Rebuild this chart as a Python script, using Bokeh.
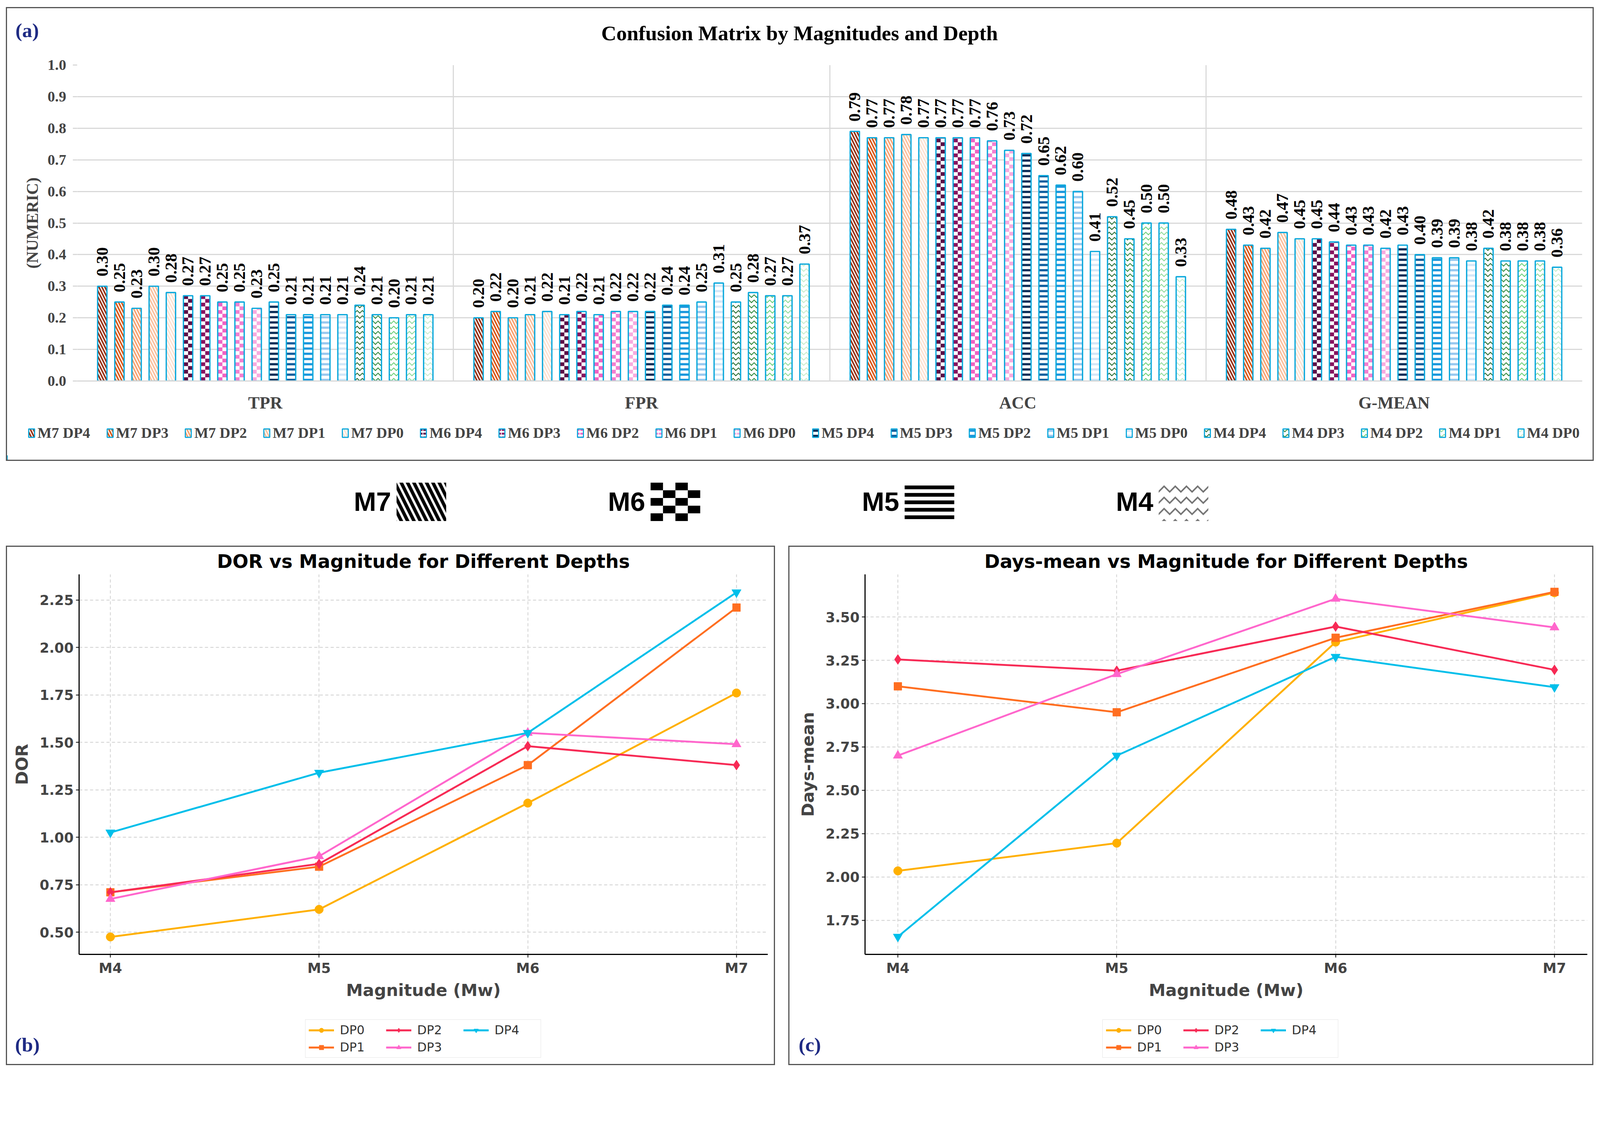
import math
from bokeh.plotting import figure
from bokeh.models import (ColumnDataSource, FixedTicker, Legend, LegendItem, Spacer,
                          NumeralTickFormatter, Range1d)
from bokeh.layouts import column, row
from bokeh.core.properties import value
from bokeh.embed import file_html
from bokeh.resources import INLINE

# ---------------- data: panel (a) ----------------
metrics = ["TPR", "FPR", "ACC", "G-MEAN"]
series_names = ["M7 DP4", "M7 DP3", "M7 DP2", "M7 DP1", "M7 DP0",
                "M6 DP4", "M6 DP3", "M6 DP2", "M6 DP1", "M6 DP0",
                "M5 DP4", "M5 DP3", "M5 DP2", "M5 DP1", "M5 DP0",
                "M4 DP4", "M4 DP3", "M4 DP2", "M4 DP1", "M4 DP0"]
tpr = [0.30, 0.25, 0.23, 0.30, 0.28, 0.27, 0.27, 0.25, 0.25, 0.23,
       0.25, 0.21, 0.21, 0.21, 0.21, 0.24, 0.21, 0.20, 0.21, 0.21]
fpr = [0.20, 0.22, 0.20, 0.21, 0.22, 0.21, 0.22, 0.21, 0.22, 0.22,
       0.22, 0.24, 0.24, 0.25, 0.31, 0.25, 0.28, 0.27, 0.27, 0.37]
acc = [0.79, 0.77, 0.77, 0.78, 0.77, 0.77, 0.77, 0.77, 0.76, 0.73,
       0.72, 0.65, 0.62, 0.60, 0.41, 0.52, 0.45, 0.50, 0.50, 0.33]
gmean = [0.48, 0.43, 0.42, 0.47, 0.45, 0.45, 0.44, 0.43, 0.43, 0.42,
         0.43, 0.40, 0.39, 0.39, 0.38, 0.42, 0.38, 0.38, 0.38, 0.36]
series_colors = ["#93290a", "#d9520f", "#f9a06e", "#fbbf9c", "#fde2d2",
                 "#5b0e47", "#86135f", "#f062c3", "#f47fd0", "#f8aadf",
                 "#0b2d57", "#0f5f9e", "#1996dc", "#98c8ef", "#d3e7f8",
                 "#0c5a18", "#147a24", "#55c866", "#7fd68c", "#bfeac5"]
magnitudes = ["M7", "M6", "M5", "M4"]

# ---------------- data: panels (b), (c) ----------------
mag_labels = ["M4", "M5", "M6", "M7"]
depths = ["DP0", "DP1", "DP2", "DP3", "DP4"]
dor_dp0 = [0.475, 0.62, 1.18, 1.76]
dor_dp1 = [0.71, 0.845, 1.38, 2.21]
dor_dp2 = [0.71, 0.86, 1.48, 1.38]
dor_dp3 = [0.675, 0.90, 1.55, 1.49]
dor_dp4 = [1.025, 1.34, 1.55, 2.29]
days_dp0 = [2.035, 2.195, 3.355, 3.64]
days_dp1 = [3.10, 2.95, 3.38, 3.645]
days_dp2 = [3.255, 3.19, 3.445, 3.195]
days_dp3 = [2.70, 3.17, 3.605, 3.44]
days_dp4 = [1.655, 2.70, 3.27, 3.095]
depth_colors = ["#FFB000", "#FF6E20", "#F72A55", "#FF66CC", "#00BFEA"]
depth_markers = ["circle", "square", "diamond", "triangle", "inverted_triangle"]
depth_msize = [23, 21, 27, 25, 25]

SERIF = "Liberation Serif"
SANS = "DejaVu Sans"
CYAN = "#0aa8dc"
TAG_COLOR = "#1f2b84"

# the page is photographed slightly enlarged; work in reference pixels scaled by K
K = 0.955


def S(v):
    return int(round(v * K))


def F(v):
    return "%.1fpx" % (v * K)


BOX_STYLE = {"border": "3px solid #555555"}


def hatch_for(mag, big=False):
    if mag == "M7":
        return dict(hatch_pattern="\\", hatch_scale=(34 if big else 16) * K, hatch_weight=(9 if big else 4) * K)
    if mag == "M6":
        return dict(hatch_pattern='"', hatch_scale=10 * K, hatch_weight=5 * K)
    if mag == "M5":
        return dict(hatch_pattern="-", hatch_scale=(20 if big else 14) * K, hatch_weight=(10 if big else 6) * K)
    return dict(hatch_pattern="v", hatch_scale=(30 if big else 14) * K, hatch_weight=(4 if big else 2) * K)


def blank_fig(w, h):
    f = figure(width=w, height=h, x_range=Range1d(0, w), y_range=Range1d(0, h),
               output_backend="svg", toolbar_location=None, min_border=0, frame_align=False,
               x_axis_type=None, y_axis_type=None, outline_line_color=None)
    f.grid.visible = False
    return f


def checker_quads(xc, half_w, y_top, cell_h, color, fig):
    n = int(math.ceil(y_top / cell_h))
    L, R, B, T = [], [], [], []
    ncol = 2
    cw = 2 * half_w / ncol
    for r in range(n):
        b = r * cell_h
        t = min(b + cell_h, y_top)
        for c in range(ncol):
            if (r + c) % 2 == 0:
                L.append(xc - half_w + c * cw)
                R.append(xc - half_w + (c + 1) * cw)
                B.append(b)
                T.append(t)
    fig.quad(left=L, right=R, bottom=B, top=T, fill_color=color, line_color=None)


# ================= panel (a) =================
A_W = S(4250)
a_head = blank_fig(A_W, S(120))
a_head.text(x=[22 * K], y=[62 * K], text=["(a)"], text_font=value(SERIF), text_font_style="bold",
            text_font_size=F(54), text_color=TAG_COLOR, text_align="left", text_baseline="middle")
a_head.text(x=[2124 * K], y=[54 * K], text=["Confusion Matrix by Magnitudes and Depth"],
            text_font=value(SERIF), text_font_style="bold", text_font_size=F(56),
            text_color="black", text_align="center", text_baseline="middle")

A_ML, A_MR, A_MT, A_MB, A_H = S(187), S(28), S(31), S(91), S(970)
top = figure(width=A_W, height=A_H, x_range=Range1d(0, 4), y_range=Range1d(0, 1),
             output_backend="svg", toolbar_location=None, frame_align=False,
             min_border_left=A_ML, min_border_right=A_MR, min_border_top=A_MT, min_border_bottom=A_MB,
             outline_line_color=None)
frame_h_a = A_H - A_MT - A_MB
pitch = 0.0456
bar_w = 0.0248
values_by_metric = [tpr, fpr, acc, gmean]
for j, name in enumerate(series_names):
    vals = [m[j] for m in values_by_metric]
    xs = [i + 0.5 + (j - (len(series_names) - 1) / 2) * pitch for i in range(len(metrics))]
    src = ColumnDataSource(dict(x=xs, top=vals, label=["%.2f" % v for v in vals]))
    mag = name.split()[0]
    if mag == "M6":
        top.vbar(x="x", top="top", width=bar_w, source=src, fill_color="white", line_color=None)
        for xc, v in zip(xs, vals):
            checker_quads(xc, bar_w / 2, v, 10.0 * K / frame_h_a, series_colors[j], top)
        top.vbar(x="x", top="top", width=bar_w, source=src, fill_color=None,
                 line_color=CYAN, line_width=3.5 * K)
    else:
        top.vbar(x="x", top="top", width=bar_w, source=src, fill_color="white",
                 line_color=CYAN, line_width=3.5 * K, hatch_color=series_colors[j], **hatch_for(mag))
    top.text(x="x", y="top", text="label", source=src, angle=math.pi / 2,
             text_align="left", text_baseline="middle", y_offset=-26 * K,
             text_font=value(SERIF), text_font_style="bold", text_font_size=F(45),
             text_color="black")

top.xaxis.ticker = FixedTicker(ticks=[i + 0.5 for i in range(len(metrics))])
top.xaxis.major_label_overrides = {i + 0.5: m for i, m in enumerate(metrics)}
top.xaxis.axis_line_color = "#d9d9d9"
top.xaxis.axis_line_width = 3 * K
top.xaxis.major_tick_line_color = None
top.xaxis.minor_tick_line_color = None
top.xaxis.major_label_text_font = SERIF
top.xaxis.major_label_text_font_style = "bold"
top.xaxis.major_label_text_font_size = F(46)
top.xaxis.major_label_standoff = S(26)
top.xgrid.ticker = FixedTicker(ticks=list(range(len(metrics) + 1)))
top.xgrid.grid_line_color = "#d9d9d9"
top.xgrid.grid_line_width = 3 * K

yt = [round(i * 0.1, 1) for i in range(11)]
top.yaxis.ticker = FixedTicker(ticks=yt)
top.yaxis.formatter = NumeralTickFormatter(format="0.0")
top.yaxis.axis_line_color = None
top.yaxis.major_tick_line_color = "#d9d9d9"
top.yaxis.major_tick_line_width = 3 * K
top.yaxis.major_tick_out = S(12)
top.yaxis.major_tick_in = 0
top.yaxis.minor_tick_line_color = None
top.yaxis.major_label_text_font = SERIF
top.yaxis.major_label_text_font_style = "bold"
top.yaxis.major_label_text_font_size = F(40)
top.yaxis.major_label_standoff = S(18)
top.yaxis.axis_label = "(NUMERIC)"
top.yaxis.axis_label_text_font = SERIF
top.yaxis.axis_label_text_font_style = "bold"
top.yaxis.axis_label_text_font_size = F(44)
top.yaxis.axis_label_standoff = S(14)
top.ygrid.ticker = FixedTicker(ticks=yt)
top.ygrid.grid_line_color = "#d9d9d9"
top.ygrid.grid_line_width = 3 * K

a_foot = blank_fig(A_W, S(120))
leg_items = []
for j, name in enumerate(series_names):
    mag = name.split()[0]
    r = a_foot.vbar(x=[-1000], top=[10], width=10, fill_color="white", line_color=CYAN,
                    line_width=3 * K, hatch_color=series_colors[j], **hatch_for(mag))
    leg_items.append(LegendItem(label=name, renderers=[r]))
a_foot.add_layout(Legend(items=leg_items, orientation="horizontal", location=(S(56), S(49)),
                         label_text_font=SERIF, label_text_font_style="bold",
                         label_text_font_size=F(40), glyph_width=S(20), glyph_height=S(28),
                         label_standoff=S(6), spacing=S(43), padding=S(4), margin=0,
                         border_line_color=None, background_fill_alpha=0))

panel_a = column(a_head, top, a_foot, styles=BOX_STYLE)

# ================= pattern key =================
mid = blank_fig(S(4276), S(227))
key_x0 = 998 * K
key_pitch = 681 * K
KEY_W, KEY_H, KEY_Y = 133 * K, 103 * K, 118 * K
for i, mg in enumerate(magnitudes):
    cx = key_x0 + i * key_pitch
    mid.text(x=[cx], y=[KEY_Y], text=[mg], text_font=value("Liberation Sans"), text_font_style="bold",
             text_font_size=F(72), text_align="center", text_baseline="middle", text_color="black")
    kx = cx + 131 * K
    if mg == "M6":
        mid.rect(x=[kx], y=[KEY_Y], width=KEY_W, height=KEY_H, fill_color="white", line_color=None)
        ncols, nrows = 4, 5
        cw = KEY_W / ncols
        ch = KEY_H / nrows
        L, R, B, T = [], [], [], []
        for rr in range(nrows):
            b = KEY_Y - KEY_H / 2 + rr * ch
            for c in range(ncols):
                if (rr + c) % 2 == 0:
                    L.append(kx - KEY_W / 2 + c * cw)
                    R.append(kx - KEY_W / 2 + (c + 1) * cw)
                    B.append(b)
                    T.append(b + ch)
        mid.quad(left=L, right=R, bottom=B, top=T, fill_color="black", line_color=None)
    else:
        mid.rect(x=[kx], y=[KEY_Y], width=KEY_W, height=KEY_H, fill_color="white", line_color=None,
                 hatch_color="#707070" if mg == "M4" else "black", **hatch_for(mg, big=True))


# ================= panels (b), (c) =================
def line_panel(width_ref, ml_ref, mr_ref, series, y_lo, y_hi, yticks, title, ylabel, tag, tag_x, legend_x):
    width, ml, mr = S(width_ref), S(ml_ref), S(mr_ref)
    head = blank_fig(width, S(68))
    main_h, mt, mb = S(1149), S(5), S(121)
    frame_cx = ml + (width - ml - mr) / 2
    head.text(x=[frame_cx], y=[29 * K], text=[title], text_font=value(SANS), text_font_style="bold",
              text_font_size=F(50), text_align="center", text_baseline="middle", text_color="black")

    p = figure(width=width, height=main_h, x_range=Range1d(-0.15, 3.15), y_range=Range1d(y_lo, y_hi),
               output_backend="svg", toolbar_location=None, frame_align=False,
               min_border_left=ml, min_border_right=mr, min_border_top=mt, min_border_bottom=mb,
               outline_line_color=None)
    xs = list(range(len(mag_labels)))
    for k, ys in enumerate(series):
        p.line(xs, ys, line_color=depth_colors[k], line_width=5 * K)
        p.scatter(xs, ys, marker=depth_markers[k], size=depth_msize[k] * K,
                  fill_color=depth_colors[k], line_color=depth_colors[k])
    p.xaxis.ticker = FixedTicker(ticks=xs)
    p.xaxis.major_label_overrides = {i: m for i, m in enumerate(mag_labels)}
    p.yaxis.ticker = FixedTicker(ticks=yticks)
    p.yaxis.formatter = NumeralTickFormatter(format="0.00")
    for ax in (p.xaxis, p.yaxis):
        ax.axis_line_color = "black"
        ax.axis_line_width = 3 * K
        ax.major_tick_line_color = "black"
        ax.major_tick_line_width = 2 * K
        ax.major_tick_out = S(8)
        ax.major_tick_in = 0
        ax.minor_tick_line_color = None
        ax.major_label_text_font = SANS
        ax.major_label_text_font_style = "bold"
        ax.major_label_text_font_size = F(37)
        ax.major_label_standoff = S(6)
        ax.axis_label_text_font = SANS
        ax.axis_label_text_font_style = "bold"
        ax.axis_label_text_font_size = F(45)
    p.xaxis.axis_label = "Magnitude (Mw)"
    p.xaxis.axis_label_standoff = S(8)
    p.yaxis.axis_label = ylabel
    p.yaxis.axis_label_standoff = S(18)
    for g in (p.xgrid, p.ygrid):
        g.grid_line_color = "#cfcfcf"
        g.grid_line_width = 2 * K
        g.grid_line_dash = "8 6"
    p.ygrid.ticker = FixedTicker(ticks=yticks)
    p.xgrid.ticker = FixedTicker(ticks=xs)

    foot = blank_fig(width, S(170))
    foot.text(x=[tag_x * K], y=[52 * K], text=[tag], text_font=value(SERIF), text_font_style="bold",
              text_font_size=F(54), text_color=TAG_COLOR, text_align="left", text_baseline="middle")
    items = []
    for k in range(len(depths)):
        ln = foot.line([-1000, -990], [10, 10], line_color=depth_colors[k], line_width=5 * K)
        sc = foot.scatter([-995], [10], marker=depth_markers[k], size=depth_msize[k] * K,
                          fill_color=depth_colors[k], line_color=depth_colors[k])
        items.append(LegendItem(label=depths[k], renderers=[ln, sc]))
    foot.add_layout(Legend(items=items, location=(S(legend_x), S(17)), orientation="vertical", nrows=2,
                           label_text_font=SANS, label_text_font_size=F(33),
                           label_text_color="#333333", glyph_width=S(68), glyph_height=S(30),
                           label_standoff=S(16), label_width=S(115), spacing=S(8), padding=S(8), margin=0,
                           border_line_color="#cccccc", border_line_width=2 * K,
                           background_fill_color="white", background_fill_alpha=1.0))
    return column(head, p, foot, styles=BOX_STYLE)


dor_ticks = [0.5 + 0.25 * i for i in range(8)]
days_ticks = [1.75 + 0.25 * i for i in range(8)]
panel_b = line_panel(2055, 193, 17, [dor_dp0, dor_dp1, dor_dp2, dor_dp3, dor_dp4], 0.383, 2.385,
                     dor_ticks, "DOR vs Magnitude for Different Depths", "DOR", "(b)", 21, 799)
panel_c = line_panel(2152, 202, 14, [days_dp0, days_dp1, days_dp2, days_dp3, days_dp4], 1.553, 3.746,
                     days_ticks, "Days-mean vs Magnitude for Different Depths", "Days-mean", "(c)", 24, 839)

layout = column(
    Spacer(height=S(19), width=10),
    row(Spacer(width=S(16), height=10), panel_a),
    mid,
    row(Spacer(width=S(16), height=10), panel_b, Spacer(width=S(36), height=10), panel_c),
)

open("out.html", "w").write(file_html(layout, INLINE))
